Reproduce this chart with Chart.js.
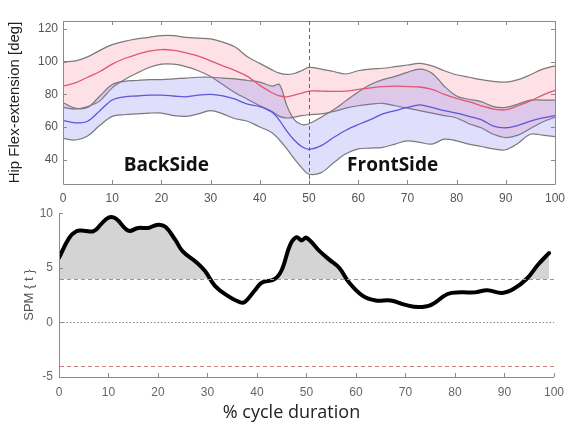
<!DOCTYPE html>
<html>
<head>
<meta charset="utf-8">
<script src="https://cdn.jsdelivr.net/npm/chart.js@4.4.1/dist/chart.umd.min.js"></script>
<style>
  body { margin: 0; background: #fff; }
  #wrap { position: relative; width: 572px; height: 427px; }
  canvas { position: absolute; left: 0; }
  #hip { top: 0; }
  #spm { top: 200px; }
</style>
</head>
<body>
<div id="wrap">
  <canvas id="hip" width="572" height="205"></canvas>
  <canvas id="spm" width="572" height="227"></canvas>
</div>
<script>
// ---- top panel: hip flex-extension (mean +/- band) ----
const pct = [0, 2.5, 5, 7.5, 10, 12.5, 15, 17.5, 20, 22.5, 25, 27.5, 30, 32.5, 35, 37.5, 40,
  42.5, 44, 45.5, 47, 48.5, 50, 52.5, 55, 57.5, 60, 62.5, 65, 67.5, 70, 72.5, 75, 77.5,
  80, 82.5, 85, 87.5, 90, 92.5, 95, 97.5, 100];

const backMean  = [85, 87, 90.5, 94, 98.5, 102, 104.5, 106.5, 107.5, 107, 105.5, 103.5, 100.5, 97.5, 94.5, 91, 85.5,
  81, 79, 78.5, 79.5, 80.8, 82, 82, 81.8, 82, 83, 84, 84.8, 85, 84.8, 84.5, 83, 80,
  77.5, 75.5, 73, 71, 70.5, 73, 76, 79.5, 82.5];
const backUpper = [100, 100.5, 103, 107, 110.5, 112.5, 114, 115, 116, 116, 115, 114.5, 114, 112, 109, 103, 99,
  95, 93, 92.2, 92.8, 94.5, 96.5, 95.5, 94, 92.5, 94.5, 95.5, 96, 97, 98, 99, 97.5, 94.5,
  92, 90.5, 89, 88, 87.5, 89, 92, 95.5, 97.5];
const backLower = [72, 71, 72.5, 76, 84, 89, 93, 96.5, 98.5, 98.5, 97, 94.5, 91, 86, 81, 77, 73,
  69.5, 66.5, 65.5, 66, 67, 67.5, 68, 69.5, 71.5, 73, 74, 74.5, 73, 71.5, 70, 68.5, 67,
  65.5, 62, 59.5, 55.5, 53.5, 55, 59, 63, 66];

const frontMean  = [64, 62.5, 63.5, 70, 76.5, 78.5, 79, 79.5, 79.5, 79, 78.5, 79.5, 80, 79, 77, 74, 72.5,
  69, 64, 57.5, 52, 48, 46.3, 48.5, 53.5, 58, 61.5, 64.5, 68, 70, 72, 73.5, 72, 70,
  68.5, 66.5, 64.5, 60.5, 59.5, 61, 63.5, 65.5, 67];
const frontUpper = [75, 71.5, 72, 79, 86, 88, 88.5, 89, 89, 89.5, 90, 90.5, 90.5, 90, 89.5, 88.5, 87.5,
  85, 86, 73, 64.5, 61.5, 62, 66, 70.5, 76, 81.5, 86, 89, 91, 93.5, 95.5, 93, 85,
  79, 77, 75.5, 72.5, 72, 74, 76.5, 76.5, 76.5];
const frontLower = [53, 52, 54.5, 61, 66.5, 67.5, 68, 68.5, 68.5, 67, 66.5, 68, 70, 68, 65, 63.5, 60,
  56.5, 52, 46.5, 40.5, 35, 31, 32, 38, 43.5, 46.5, 47, 47.5, 49.5, 51.5, 50.5, 49.5, 52.5,
  51.5, 49.5, 48, 46.5, 46, 50, 55.5, 55, 54];

const pctTicks = [0, 10, 20, 30, 40, 50, 60, 70, 80, 90, 100];
const angleTicks = [40, 60, 80, 100, 120];
const splitAt = 50;

// ---- bottom panel: SPM{t} ----
const spmX = [0, 2, 3.5, 5, 7, 8.5, 10, 11.5, 14, 16, 18, 20, 21.5, 23.5, 25, 27.5, 29.5, 31.5, 34,
  36.5, 37.5, 39.5, 41, 43.5, 45, 46.7, 48, 49, 50, 52.7, 54.6, 56.6, 58.6, 61.3, 64, 67,
  70, 72.6, 75.2, 78.5, 81.2, 84, 86.5, 89.5, 91.8, 94.5, 96.8, 99];
const spmT = [5.9, 7.7, 8.35, 8.4, 8.35, 9.0, 9.6, 9.5, 8.4, 8.65, 8.65, 8.95, 8.75, 7.55, 6.5, 5.6, 4.7, 3.35, 2.45,
  1.85, 1.85, 2.9, 3.65, 3.95, 4.8, 7.1, 7.8, 7.5, 7.75, 6.5, 5.75, 5.0, 3.65, 2.45, 2.0, 2.0,
  1.6, 1.4, 1.6, 2.6, 2.75, 2.75, 2.95, 2.7, 3.05, 4.0, 5.3, 6.35];
const tCrit = 3.95;
const spmTicks = [-5, 0, 5, 10];

const pts = (xs, ys) => xs.map((x, i) => ({ x: x, y: ys[i] }));
const setTicks = vals => scale => { scale.ticks = vals.map(v => ({ value: v })); };

const tickFont = { family: 'Liberation Sans, Arial, sans-serif', size: 12 };

// inward tick marks + axis frame
const framePlugin = {
  id: 'frame',
  afterDatasetsDraw(chart, args, opts) {
    const { ctx, chartArea: a, scales: { x, y } } = chart;
    const L = 4;
    ctx.save();
    ctx.strokeStyle = opts.color;
    ctx.lineWidth = 1;
    ctx.beginPath();
    if (opts.box) {
      ctx.rect(a.left + 0.5, a.top + 0.5, a.width, a.height);
    } else {
      ctx.moveTo(a.left + 0.5, a.top);
      ctx.lineTo(a.left + 0.5, a.bottom + 0.5);
      ctx.lineTo(a.right, a.bottom + 0.5);
    }
    x.ticks.forEach(t => {
      const px = Math.round(x.getPixelForValue(t.value)) + 0.5;
      ctx.moveTo(px, a.bottom);
      ctx.lineTo(px, a.bottom - L);
      if (opts.box) { ctx.moveTo(px, a.top); ctx.lineTo(px, a.top + L); }
    });
    y.ticks.forEach(t => {
      const py = Math.round(y.getPixelForValue(t.value)) + 0.5;
      ctx.moveTo(a.left, py);
      ctx.lineTo(a.left + L, py);
      if (opts.box) { ctx.moveTo(a.right, py); ctx.lineTo(a.right - L, py); }
    });
    ctx.stroke();
    ctx.restore();
  }
};

// vertical split line and side labels for the top panel
const sidesPlugin = {
  id: 'sides',
  afterDatasetsDraw(chart, args, opts) {
    const { ctx, chartArea: a, scales: { x, y } } = chart;
    ctx.save();
    ctx.strokeStyle = '#666';
    ctx.lineWidth = 1;
    ctx.setLineDash([4, 3]);
    const px = Math.round(x.getPixelForValue(opts.split)) + 0.5;
    ctx.beginPath();
    ctx.moveTo(px, a.top);
    ctx.lineTo(px, a.bottom);
    ctx.stroke();
    ctx.setLineDash([]);
    ctx.fillStyle = '#111';
    ctx.font = 'bold 19px "Open Sans", sans-serif';
    ctx.textAlign = 'center';
    ctx.textBaseline = 'middle';
    opts.labels.forEach(l => ctx.fillText(l.text, x.getPixelForValue(l.x), y.getPixelForValue(l.y)));
    ctx.restore();
  }
};

// reference lines for the SPM panel
const refPlugin = {
  id: 'refs',
  beforeDatasetsDraw(chart, args, opts) {
    const { ctx, chartArea: a, scales: { y } } = chart;
    ctx.save();
    ctx.lineWidth = 1;
    ctx.strokeStyle = '#888';
    ctx.setLineDash([1.5, 2]);
    const py = Math.round(y.getPixelForValue(0)) + 0.5;
    ctx.beginPath(); ctx.moveTo(a.left + 4, py); ctx.lineTo(a.right, py); ctx.stroke();
    ctx.restore();
  },
  afterDatasetsDraw(chart, args, opts) {
    const { ctx, chartArea: a, scales: { y } } = chart;
    ctx.save();
    ctx.lineWidth = 1;
    ctx.strokeStyle = '#cc8080';
    ctx.setLineDash([4, 3]);
    [opts.crit, -opts.crit].forEach(v => {
      const py = Math.round(y.getPixelForValue(v)) + 0.5;
      ctx.beginPath(); ctx.moveTo(a.left + 1, py); ctx.lineTo(a.right, py); ctx.stroke();
    });
    ctx.restore();
  },
  afterDraw(chart, args, opts) {
    const { ctx, chartArea: a } = chart;
    ctx.save();
    ctx.fillStyle = '#222';
    ctx.font = '18px "Open Sans", sans-serif';
    ctx.textAlign = 'center';
    ctx.textBaseline = 'middle';
    ctx.fillText(opts.xTitle, (a.left + a.right) / 2 - 15, chart.height - 14);
    ctx.restore();
  }
};

const grayLine = { borderColor: '#7a7a7a', borderWidth: 1.2, pointRadius: 0, tension: 0.35 };

new Chart(document.getElementById('hip'), {
  type: 'line',
  data: {
    datasets: [
      { label: 'FrontSide mean', data: pts(pct, frontMean), borderColor: '#5e55dd', borderWidth: 1.3, pointRadius: 0, tension: 0.35, fill: false },
      { label: 'BackSide mean', data: pts(pct, backMean), borderColor: '#e25670', borderWidth: 1.3, pointRadius: 0, tension: 0.35, fill: false },
      Object.assign({ label: 'FrontSide upper', data: pts(pct, frontUpper), fill: false }, grayLine),
      Object.assign({ label: 'FrontSide lower', data: pts(pct, frontLower), fill: 2, backgroundColor: 'rgba(110,110,240,0.22)' }, grayLine),
      Object.assign({ label: 'BackSide upper', data: pts(pct, backUpper), fill: false }, grayLine),
      Object.assign({ label: 'BackSide lower', data: pts(pct, backLower), fill: 4, backgroundColor: 'rgba(250,120,140,0.22)' }, grayLine)
    ]
  },
  options: {
    responsive: false,
    animation: false,
    layout: { padding: { left: 0, right: 17, top: 21, bottom: 0 } },
    plugins: {
      legend: { display: false },
      tooltip: { enabled: false },
      frame: { color: '#8a8a8a', box: true },
      sides: { split: splitAt, labels: [{ text: 'BackSide', x: 21, y: 36 }, { text: 'FrontSide', x: 67, y: 36 }] }
    },
    scales: {
      x: {
        type: 'linear', min: 0, max: 100,
        afterBuildTicks: setTicks(pctTicks),
        afterFit: s => { s.height = 21; },
        grid: { display: false, drawTicks: false },
        border: { display: false },
        ticks: { font: tickFont, color: '#555', padding: 7, maxRotation: 0 }
      },
      y: {
        min: 25, max: 125,
        afterBuildTicks: setTicks(angleTicks),
        afterFit: s => { s.width = 63; },
        grid: { display: false, drawTicks: false },
        border: { display: false },
        ticks: { font: tickFont, color: '#555', padding: 5 },
        title: { display: true, text: 'Hip Flex-extension [deg]', color: '#222', padding: { top: 6, bottom: 0 },
          font: { family: 'Liberation Sans, Arial, sans-serif', size: 15 } }
      }
    }
  },
  plugins: [framePlugin, sidesPlugin]
});

new Chart(document.getElementById('spm'), {
  type: 'line',
  data: {
    datasets: [{
      label: 'SPM{t}',
      data: pts(spmX, spmT),
      borderColor: '#000',
      borderWidth: 4,
      borderCapStyle: 'round',
      pointRadius: 0,
      tension: 0.4,
      fill: { target: { value: tCrit }, above: 'rgb(212,212,212)', below: 'rgba(0,0,0,0)' }
    }]
  },
  options: {
    responsive: false,
    animation: false,
    layout: { padding: { left: 0, right: 11, top: 11, bottom: 0 } },
    plugins: {
      legend: { display: false },
      tooltip: { enabled: false },
      filler: { drawTime: 'beforeDatasetsDraw' },
      frame: { color: '#8a8a8a', box: false },
      refs: { crit: tCrit, xTitle: '% cycle duration' }
    },
    scales: {
      x: {
        type: 'linear', min: 0, max: 100,
        afterBuildTicks: setTicks(pctTicks),
        afterFit: s => { s.height = 50; },
        grid: { display: false, drawTicks: false },
        border: { display: false },
        ticks: { font: tickFont, color: '#666', padding: 8, maxRotation: 0 }
      },
      y: {
        min: -5, max: 10,
        afterBuildTicks: setTicks(spmTicks),
        afterFit: s => { s.width = 59; },
        grid: { display: false, drawTicks: false },
        border: { display: false },
        ticks: { font: tickFont, color: '#666', padding: 6 },
        title: { display: true, text: 'SPM { t }', color: '#555', padding: { top: 22, bottom: 0 },
          font: { family: 'Liberation Sans, Arial, sans-serif', size: 13 } }
      }
    }
  },
  plugins: [framePlugin, refPlugin]
});
</script>
</body>
</html>
